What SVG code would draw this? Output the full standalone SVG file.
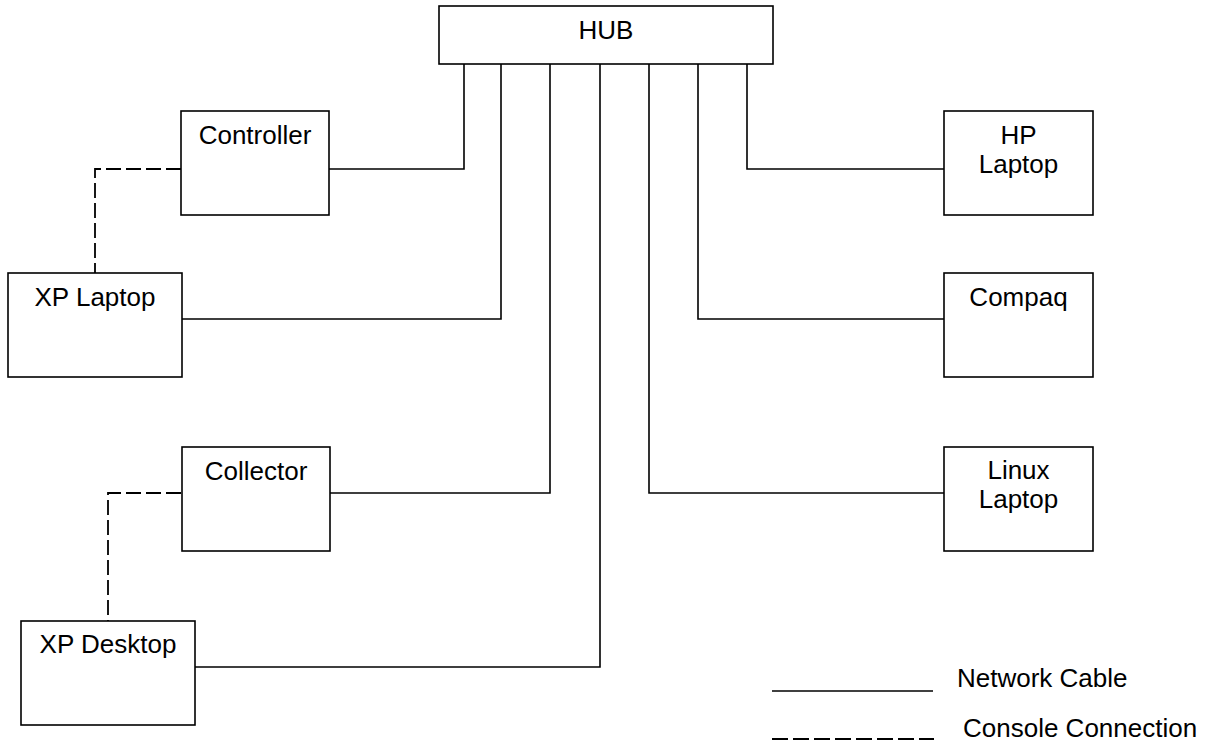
<svg xmlns="http://www.w3.org/2000/svg" width="1210" height="749" viewBox="0 0 1210 749">
<style>
.box{fill:#fff;stroke:#000;stroke-width:1.6}
.t{font-family:"Liberation Sans",Arial,sans-serif;font-size:26px;fill:#000;text-anchor:middle}
.l{font-family:"Liberation Sans",Arial,sans-serif;font-size:26px;fill:#000}
.net{fill:none;stroke:#000;stroke-width:1.6}
.con{fill:none;stroke:#000;stroke-width:1.8;stroke-dasharray:15,5}
</style>
<rect width="1210" height="749" fill="#fff"/>
<g id="connectors">
<polyline class="net" points="329,169 464,169 464,64"/>
<polyline class="net" points="182,319 501,319 501,64"/>
<polyline class="net" points="330,493 550,493 550,64"/>
<polyline class="net" points="195,667 600,667 600,64"/>
<polyline class="net" points="944,493 649,493 649,64"/>
<polyline class="net" points="944,319 698,319 698,64"/>
<polyline class="net" points="944,169 747,169 747,64"/>
<polyline class="con" points="181,169 95,169 95,273"/>
<polyline class="con" points="181,493 108,493 108,621"/>
</g>
<g id="hub"><rect class="box" x="439" y="6" width="334" height="58"/><text class="t" x="606" y="39">HUB</text></g>
<g id="controller"><rect class="box" x="181" y="111" width="148" height="104"/><text class="t" x="255" y="144">Controller</text></g>
<g id="xp-laptop"><rect class="box" x="8" y="273" width="174" height="104"/><text class="t" x="95" y="306">XP Laptop</text></g>
<g id="collector"><rect class="box" x="182" y="447" width="148" height="104"/><text class="t" x="256" y="480">Collector</text></g>
<g id="xp-desktop"><rect class="box" x="21" y="621" width="174" height="104"/><text class="t" x="108" y="653">XP Desktop</text></g>
<g id="hp-laptop"><rect class="box" x="944" y="111" width="149" height="104"/><text class="t" x="1018.5" y="144">HP</text><text class="t" x="1018.5" y="173">Laptop</text></g>
<g id="compaq"><rect class="box" x="944" y="273" width="149" height="104"/><text class="t" x="1018.5" y="306">Compaq</text></g>
<g id="linux-laptop"><rect class="box" x="944" y="447" width="149" height="104"/><text class="t" x="1018.5" y="479">Linux</text><text class="t" x="1018.5" y="508">Laptop</text></g>
<g id="legend">
<line class="net" x1="772" y1="691" x2="933" y2="691"/>
<text class="l" x="957" y="687">Network Cable</text>
<line class="con" x1="772" y1="739" x2="934" y2="739" style="stroke-width:2;stroke-dasharray:16,5"/>
<text class="l" x="963" y="737">Console Connection</text>
</g>
</svg>
